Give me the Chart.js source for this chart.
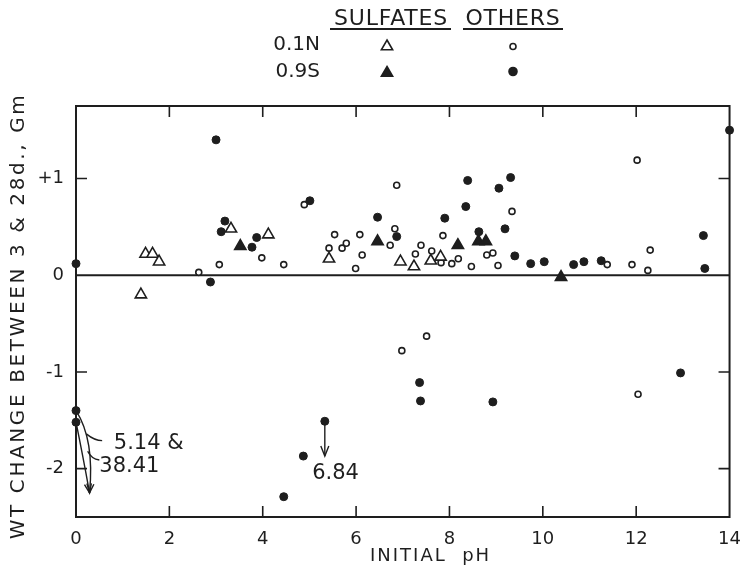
<!DOCTYPE html>
<html><head><meta charset="utf-8">
<script src="https://cdn.jsdelivr.net/npm/chart.js@4.4.1/dist/chart.umd.min.js"></script>
<style>html,body{margin:0;padding:0;background:#fff}#wrap{width:753px;height:575px;position:relative}</style>
</head><body><div id="wrap"><canvas id="c" width="753" height="575"></canvas></div>
<script>
// ---- data (initial pH, weight change g) ----
const xTicks = [0, 2, 4, 6, 8, 10, 12, 14];
const yTicks = [-2, -1, 0, 1];
const innerTicksX = [2, 4, 6, 8, 10, 12];
const innerTicksY = [-2, -1, 1];

// Sulfates, 0.1N (open triangles)
const sulf01X = [1.39, 1.49, 1.64, 1.78, 3.32, 4.12, 5.42, 6.95, 7.24, 7.60, 7.81];
const sulf01Y = [-0.20, 0.22, 0.22, 0.14, 0.48, 0.42, 0.17, 0.14, 0.09, 0.15, 0.19];
// Sulfates, 0.9S (filled triangles)
const sulf09X = [3.52, 6.46, 8.18, 8.62, 8.78, 10.39];
const sulf09Y = [0.30, 0.35, 0.31, 0.35, 0.35, -0.02];
// Others, 0.1N (open circles)
const oth01X = [2.63, 3.07, 3.98, 4.45, 4.89, 5.42, 5.54, 5.70, 5.79, 5.99, 6.08, 6.13, 6.73, 6.83, 6.87,
                7.27, 7.39, 7.62, 7.82, 7.86, 8.05, 8.19, 8.47, 8.80, 8.93, 9.04, 9.34, 11.38, 11.91, 12.02,
                12.25, 12.30, 6.98, 7.51, 12.04];
const oth01Y = [0.03, 0.11, 0.18, 0.11, 0.73, 0.28, 0.42, 0.28, 0.33, 0.07, 0.42, 0.21, 0.31, 0.48, 0.93,
                0.22, 0.31, 0.25, 0.13, 0.41, 0.12, 0.17, 0.09, 0.21, 0.23, 0.10, 0.66, 0.11, 0.11, 1.19,
                0.05, 0.26, -0.78, -0.63, -1.23];
// Others, 0.9S (filled circles)
const oth09X = [0.00, 2.88, 3.00, 3.11, 3.19, 3.77, 3.87, 5.01, 6.46, 6.87, 7.90, 8.35, 8.39, 8.63, 9.06,
                9.19, 9.31, 9.40, 9.74, 10.03, 10.66, 10.88, 11.25, 13.44, 13.47, 14.00,
                0.00, 0.00, 4.45, 4.87, 5.33, 7.36, 7.38, 8.93, 12.95];
const oth09Y = [0.12, -0.07, 1.40, 0.45, 0.56, 0.29, 0.39, 0.77, 0.60, 0.40, 0.59, 0.71, 0.98, 0.45, 0.90,
                0.48, 1.01, 0.20, 0.12, 0.14, 0.11, 0.14, 0.15, 0.41, 0.07, 1.50,
                -1.40, -1.52, -2.29, -1.87, -1.51, -1.11, -1.30, -1.31, -1.01];

// off-scale annotations (data units)
const offLabels = ['5.14 &', '38.41', '6.84'];
const offLabelX = [0.81, 0.50, 5.06];
const offLabelY = [-1.74, -1.98, -2.05];
// curved arrows from the two points at pH 0: [startX, startY, ctrlX, ctrlY, tipX, tipY]
const curveArrows = [[0.00, -1.40, 0.40, -1.70, 0.29, -2.25], [0.00, -1.52, 0.14, -1.85, 0.29, -2.25]];
const leaders = [[0.22, -1.64, 0.40, -1.71, 0.56, -1.71], [0.25, -1.82, 0.33, -1.90, 0.50, -1.91]];
// straight arrow at pH 5.33
const straightArrow = [5.33, -1.51, 5.33, -1.87];

const INK = '#1e1e1e';
const FONT = "'DejaVu Sans', sans-serif";

function pts(xs, ys) { return xs.map((x, i) => ({ x: x, y: ys[i] })); }

function arrowHead(ctx, x, y, ang, len, half) {
  ctx.beginPath();
  ctx.moveTo(x - len * Math.cos(ang) + half * Math.sin(ang), y - len * Math.sin(ang) - half * Math.cos(ang));
  ctx.lineTo(x, y);
  ctx.lineTo(x - len * Math.cos(ang) - half * Math.sin(ang), y - len * Math.sin(ang) + half * Math.cos(ang));
  ctx.stroke();
}

function tri(ctx, x, y, r, filled) {
  ctx.beginPath();
  ctx.moveTo(x, y - r);
  ctx.lineTo(x + 0.866 * r, y + r / 2);
  ctx.lineTo(x - 0.866 * r, y + r / 2);
  ctx.closePath();
  ctx.fillStyle = filled ? INK : '#fff';
  ctx.fill();
  ctx.lineWidth = 1.6; ctx.strokeStyle = INK; ctx.stroke();
}
function circ(ctx, x, y, r, filled) {
  ctx.beginPath(); ctx.arc(x, y, r, 0, Math.PI * 2);
  ctx.fillStyle = filled ? INK : '#fff'; ctx.fill();
  ctx.lineWidth = 1.6; ctx.strokeStyle = INK; ctx.stroke();
}

const framePlugin = {
  id: 'frame',
  beforeDatasetsDraw(chart) {
    const { ctx, chartArea: a, scales: { x, y } } = chart;
    ctx.save();
    ctx.strokeStyle = INK; ctx.lineWidth = 2;
    ctx.strokeRect(a.left, a.top, a.right - a.left, a.bottom - a.top);
    const y0 = y.getPixelForValue(0);
    ctx.beginPath(); ctx.moveTo(a.left, y0); ctx.lineTo(a.right, y0); ctx.stroke();
    ctx.lineWidth = 1.6;
    innerTicksX.forEach(v => {
      const px = x.getPixelForValue(v);
      ctx.beginPath();
      ctx.moveTo(px, a.top); ctx.lineTo(px, a.top + 11);
      ctx.moveTo(px, a.bottom); ctx.lineTo(px, a.bottom - 11);
      ctx.stroke();
    });
    innerTicksY.forEach(v => {
      const py = y.getPixelForValue(v);
      ctx.beginPath();
      ctx.moveTo(a.left, py); ctx.lineTo(a.left + 11, py);
      ctx.moveTo(a.right, py); ctx.lineTo(a.right - 11, py);
      ctx.stroke();
    });
    ctx.restore();
  },
  afterDraw(chart) {
    const { ctx, chartArea: a, scales: { x, y } } = chart;
    ctx.save();
    ctx.strokeStyle = INK; ctx.fillStyle = INK; ctx.lineWidth = 1.4;
    // curved arrows
    curveArrows.forEach(c => {
      const sx = x.getPixelForValue(c[0]), sy = y.getPixelForValue(c[1]);
      const cx = x.getPixelForValue(c[2]), cy = y.getPixelForValue(c[3]);
      const tx = x.getPixelForValue(c[4]), ty = y.getPixelForValue(c[5]);
      ctx.beginPath(); ctx.moveTo(sx, sy); ctx.quadraticCurveTo(cx, cy, tx, ty); ctx.stroke();
      arrowHead(ctx, tx, ty, Math.atan2(ty - cy, tx - cx), 9, 3.5);
    });
    leaders.forEach(c => {
      ctx.beginPath();
      ctx.moveTo(x.getPixelForValue(c[0]), y.getPixelForValue(c[1]));
      ctx.quadraticCurveTo(x.getPixelForValue(c[2]), y.getPixelForValue(c[3]), x.getPixelForValue(c[4]), y.getPixelForValue(c[5]));
      ctx.stroke();
    });
    // straight arrow
    const ax = x.getPixelForValue(straightArrow[0]);
    const ay1 = y.getPixelForValue(straightArrow[1]), ay2 = y.getPixelForValue(straightArrow[3]);
    ctx.beginPath(); ctx.moveTo(ax, ay1); ctx.lineTo(ax, ay2); ctx.stroke();
    arrowHead(ctx, ax, ay2, Math.PI / 2, 10, 4);
    // labels
    ctx.font = '21px ' + FONT; ctx.textAlign = 'left'; ctx.textBaseline = 'middle';
    offLabels.forEach((t, i) => ctx.fillText(t, x.getPixelForValue(offLabelX[i]), y.getPixelForValue(offLabelY[i])));

    // axis titles
    ctx.letterSpacing = '2px';
    ctx.font = '18px ' + FONT; ctx.textAlign = 'left'; ctx.textBaseline = 'middle';
    ctx.fillText('INITIAL  pH', 370, 556);
    ctx.save();
    ctx.translate(19, 316); ctx.rotate(-Math.PI / 2);
    ctx.letterSpacing = '2.6px';
    ctx.font = '20px ' + FONT; ctx.textAlign = 'center';
    ctx.fillText('WT CHANGE BETWEEN 3 & 28d., Gm', 0, 0);
    ctx.restore();

    // legend
    ctx.letterSpacing = '0.8px';
    ctx.font = '22px ' + FONT; ctx.textAlign = 'center'; ctx.textBaseline = 'alphabetic';
    ctx.fillText('SULFATES', 391, 25);
    ctx.fillText('OTHERS', 513, 25);
    ctx.lineWidth = 2;
    ctx.beginPath(); ctx.moveTo(330, 29); ctx.lineTo(451, 29); ctx.moveTo(463, 29); ctx.lineTo(563, 29); ctx.stroke();
    ctx.letterSpacing = '0px';
    ctx.font = '20px ' + FONT; ctx.textAlign = 'right'; ctx.textBaseline = 'middle';
    ctx.fillText('0.1N', 320, 45);
    ctx.fillText('0.9S', 320, 72);
    tri(ctx, 387, 46.5, 6.5, false);
    circ(ctx, 513, 46.5, 3, false);
    tri(ctx, 387, 73, 6.5, true);
    circ(ctx, 513, 71.5, 4, true);
    ctx.restore();
  }
};

const common = { showLine: false, clip: false };
new Chart(document.getElementById('c'), {
  type: 'scatter',
  data: {
    datasets: [
      Object.assign({ label: 'Sulfates 0.1N', data: pts(sulf01X, sulf01Y), pointStyle: 'triangle', pointRadius: 6.5,
        backgroundColor: '#fff', borderColor: INK, borderWidth: 1.6 }, common),
      Object.assign({ label: 'Sulfates 0.9S', data: pts(sulf09X, sulf09Y), pointStyle: 'triangle', pointRadius: 6.5,
        backgroundColor: INK, borderColor: INK, borderWidth: 1.6 }, common),
      Object.assign({ label: 'Others 0.1N', data: pts(oth01X, oth01Y), pointStyle: 'circle', pointRadius: 3,
        backgroundColor: '#fff', borderColor: INK, borderWidth: 1.6 }, common),
      Object.assign({ label: 'Others 0.9S', data: pts(oth09X, oth09Y), pointStyle: 'circle', pointRadius: 4,
        backgroundColor: INK, borderColor: INK, borderWidth: 1 }, common)
    ]
  },
  options: {
    responsive: false, animation: false, devicePixelRatio: 1,
    layout: { padding: { top: 106, right: 1, left: 0, bottom: 0 }, autoPadding: false },
    plugins: { legend: { display: false }, tooltip: { enabled: false } },
    elements: { point: { hoverRadius: 4 } },
    scales: {
      x: {
        type: 'linear', min: 0, max: 14,
        afterBuildTicks: s => { s.ticks = xTicks.map(v => ({ value: v })); },
        afterFit: s => { s.height = 58; },
        grid: { display: false, drawTicks: false }, border: { display: false },
        ticks: { padding: 12, color: INK, font: { size: 18, family: FONT }, maxRotation: 0, autoSkip: false,
          callback: v => String(v) }
      },
      y: {
        type: 'linear', min: -2.5, max: 1.75,
        afterBuildTicks: s => { s.ticks = yTicks.map(v => ({ value: v })); },
        afterFit: s => { s.width = 76; },
        grid: { display: false, drawTicks: false }, border: { display: false },
        ticks: { padding: 12, color: INK, font: { size: 18, family: FONT },
          callback: v => (v > 0 ? '+' + v : String(v)) }
      }
    }
  },
  plugins: [framePlugin]
});
</script>
</body></html>
